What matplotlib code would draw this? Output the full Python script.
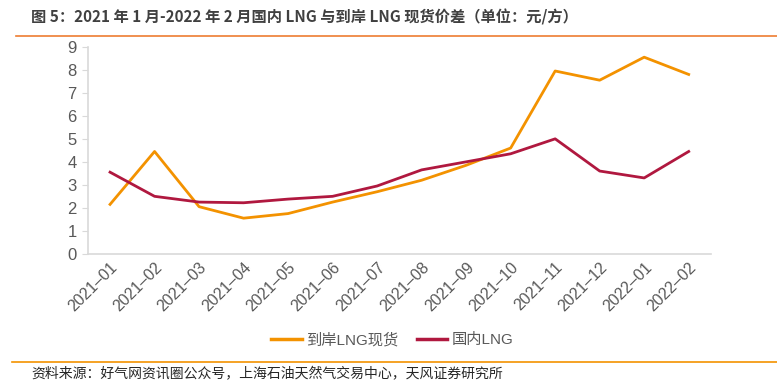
import matplotlib
matplotlib.use("Agg")
import matplotlib.pyplot as plt
from matplotlib.lines import Line2D

plt.rcParams['font.family'] = ['Liberation Sans', 'Noto Sans CJK SC', 'DejaVu Sans']

months = ["2021–01", "2021–02", "2021–03", "2021–04", "2021–05", "2021–06", "2021–07",
          "2021–08", "2021–09", "2021–10", "2021–11", "2021–12", "2022–01", "2022–02"]
spot_lng = [2.15, 4.45, 2.05, 1.55, 1.75, 2.25, 2.7, 3.2, 3.85, 4.6, 7.95, 7.55, 8.55, 7.8]
domestic_lng = [3.55, 2.5, 2.25, 2.22, 2.38, 2.5, 2.95, 3.65, 4.0, 4.35, 5.0, 3.6, 3.3, 4.45]
yticks = list(range(0, 10))

orange = "#F39200"
crimson = "#B0183F"
gray = "#595959"
axis_gray = "#D9D9D9"

fig = plt.figure(figsize=(7.77, 3.84), dpi=100)
ax = fig.add_axes([0.113, 0.339, 0.802, 0.539])

x = list(range(len(months)))
ax.plot(x, spot_lng, color=orange, lw=2.0, label="到岸LNG现货")
ax.plot(x, domestic_lng, color=crimson, lw=2.0, label="国内LNG")

ax.set_xlim(-0.5, len(months) - 0.5)
ax.set_ylim(0, 9)
ax.set_yticks(yticks)
ax.set_yticklabels([str(v) for v in yticks], fontsize=12, color=gray)
ax.set_xticks(x)
ax.set_xticklabels(months, rotation=45, ha="right", rotation_mode="anchor",
                   fontsize=11.5, color=gray)
for s in ["top", "right"]:
    ax.spines[s].set_visible(False)
for s in ["left", "bottom"]:
    ax.spines[s].set_color(axis_gray)
    ax.spines[s].set_linewidth(1.2)
ax.tick_params(axis="y", length=4, color=axis_gray, pad=4)
ax.tick_params(axis="x", length=0, pad=4)

handles = [Line2D([0], [0], color=orange, lw=2.5), Line2D([0], [0], color=crimson, lw=2.5)]
fig.legend(handles, ["到岸LNG现货", "国内LNG"], loc="center", bbox_to_anchor=(0.505, 0.115),
           ncol=2, frameon=False, fontsize=11, labelcolor=gray, handlelength=2.0,
           handletextpad=0.3, columnspacing=1.2)

fig.text(0.04, 0.955, "图 5：2021 年 1 月-2022 年 2 月国内 LNG 与到岸 LNG 现货价差（单位：元/方）",
         fontsize=11, fontweight="bold", color="#404040", va="center", ha="left",
         family=['Noto Sans CJK SC', 'DejaVu Sans'])
fig.add_artist(Line2D([0.02, 1.0], [0.906, 0.906], color="#ED7D31", lw=1.2))
fig.add_artist(Line2D([0.015, 1.0], [0.057, 0.057], color="#F39200", lw=1.2))
fig.text(0.04, 0.025, "资料来源：好气网资讯圈公众号，上海石油天然气交易中心，天风证券研究所",
         fontsize=10, color="#262626", va="center", ha="left",
         family=['Noto Sans CJK SC', 'DejaVu Sans'])

fig.savefig("out.png", dpi=100)
